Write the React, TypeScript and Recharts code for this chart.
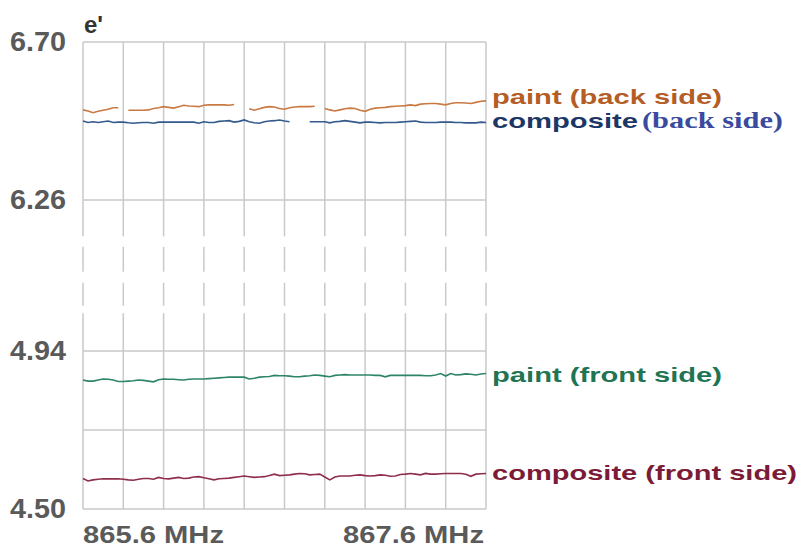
import React from "react";
import { LineChart, Line, XAxis, YAxis, CartesianGrid } from "recharts";

// frequency samples, MHz
const FREQS = [
  865.6, 865.625, 865.65, 865.675, 865.7, 865.725, 865.75, 865.775, 865.8, 865.825,
  865.85, 865.875, 865.9, 865.925, 865.95, 865.975, 866.0, 866.025, 866.05, 866.075,
  866.1, 866.125, 866.15, 866.175, 866.2, 866.225, 866.25, 866.275, 866.3, 866.325,
  866.35, 866.375, 866.4, 866.425, 866.45, 866.475, 866.5, 866.525, 866.55, 866.575,
  866.6, 866.625, 866.65, 866.675, 866.7, 866.725, 866.75, 866.775, 866.8, 866.825,
  866.85, 866.875, 866.9, 866.925, 866.95, 866.975, 867.0, 867.025, 867.05, 867.075,
  867.1, 867.125, 867.15, 867.175, 867.2, 867.225, 867.25, 867.275, 867.3, 867.325,
  867.35, 867.375, 867.4, 867.425, 867.45, 867.475, 867.5, 867.525, 867.55, 867.575,
  867.6,
];

// e' readings, null where the trace drops out
const PAINT_BACK: (number | null)[] = [
  6.511, 6.508, 6.503, 6.507, 6.51, 6.513, 6.517, 6.517, null, 6.51,
  6.51, 6.51, 6.51, 6.511, 6.515, 6.517, 6.52, 6.518, 6.516, 6.52,
  6.524, 6.522, 6.521, 6.52, 6.524, 6.525, 6.525, 6.525, 6.525, 6.524,
  6.526, null, null, 6.514, 6.51, 6.514, 6.518, 6.52, 6.519, 6.515,
  6.513, 6.517, 6.519, 6.52, 6.52, 6.52, 6.521, null, 6.515, 6.511,
  6.508, 6.511, 6.514, 6.516, 6.515, 6.51, 6.507, 6.513, 6.516, 6.517,
  6.518, 6.52, 6.521, 6.522, 6.523, 6.525, 6.523, 6.527, 6.528, 6.529,
  6.529, 6.527, 6.525, 6.529, 6.531, 6.531, 6.53, 6.529, 6.532, 6.535,
  6.536,
];

const COMPOSITE_BACK: (number | null)[] = [
  6.48, 6.476, 6.478, 6.476, 6.478, 6.48, 6.476, 6.477, 6.477, 6.475,
  6.474, 6.475, 6.476, 6.476, 6.474, 6.477, 6.477, 6.477, 6.477, 6.477,
  6.477, 6.477, 6.477, 6.474, 6.478, 6.476, 6.476, 6.479, 6.48, 6.481,
  6.477, 6.479, 6.483, 6.478, 6.475, 6.474, 6.478, 6.48, 6.481, 6.483,
  6.48, 6.478, null, null, null, 6.478, 6.478, 6.478, 6.478, 6.475,
  6.478, 6.479, 6.481, 6.479, 6.477, 6.475, 6.477, 6.477, 6.476, 6.475,
  6.476, 6.476, 6.476, 6.477, 6.478, 6.479, 6.48, 6.477, 6.476, 6.476,
  6.476, 6.477, 6.477, 6.477, 6.476, 6.476, 6.475, 6.475, 6.475, 6.477,
  6.476,
];

const PAINT_FRONT = [
  4.859, 4.856, 4.856, 4.859, 4.862, 4.861, 4.859, 4.855, 4.855, 4.856,
  4.857, 4.859, 4.858, 4.856, 4.854, 4.86, 4.862, 4.861, 4.861, 4.86,
  4.859, 4.861, 4.862, 4.862, 4.862, 4.863, 4.864, 4.865, 4.866, 4.867,
  4.867, 4.867, 4.867, 4.862, 4.864, 4.867, 4.868, 4.869, 4.872, 4.871,
  4.871, 4.87, 4.868, 4.868, 4.87, 4.871, 4.873, 4.872, 4.87, 4.868,
  4.872, 4.873, 4.874, 4.873, 4.873, 4.873, 4.873, 4.873, 4.872, 4.872,
  4.868, 4.872, 4.872, 4.872, 4.872, 4.872, 4.872, 4.872, 4.871, 4.871,
  4.873, 4.877, 4.87, 4.877, 4.873, 4.874, 4.876, 4.875, 4.873, 4.876,
  4.877,
];

const COMPOSITE_FRONT = [
  4.585, 4.578, 4.581, 4.583, 4.584, 4.584, 4.584, 4.584, 4.583, 4.581,
  4.58, 4.583, 4.585, 4.585, 4.583, 4.588, 4.585, 4.584, 4.586, 4.588,
  4.585, 4.586, 4.589, 4.59, 4.587, 4.584, 4.581, 4.584, 4.585, 4.586,
  4.588, 4.59, 4.592, 4.59, 4.588, 4.589, 4.59, 4.593, 4.597, 4.593,
  4.594, 4.595, 4.597, 4.599, 4.598, 4.595, 4.596, 4.597, 4.589, 4.581,
  4.589, 4.592, 4.592, 4.592, 4.594, 4.595, 4.593, 4.592, 4.593, 4.595,
  4.594, 4.591, 4.592, 4.596, 4.597, 4.599, 4.597, 4.595, 4.599, 4.597,
  4.597, 4.598, 4.599, 4.599, 4.599, 4.599, 4.597, 4.591, 4.597, 4.598,
  4.599,
];

const FREQ_TICKS = [865.6, 865.8, 866.0, 866.2, 866.4, 866.6, 866.8, 867.0, 867.2, 867.4, 867.6];
const FREQ_TICK_LABELS = ["865.6 MHz", "", "", "", "", "", "", "", "", "", "867.6 MHz"];

const Y_TICKS = [4.5, 4.72, 4.94, 6.26, 6.7];
const Y_TICK_LABELS = ["4.50", "", "4.94", "6.26", "6.70"];

// broken axis: the upper band 6.26..6.70 sits on top of 4.50..4.94
// with a gap of BREAK_GAP axis units in between
const LOWER_TOP = 4.94;
const UPPER_BOTTOM = 6.26;
const BREAK_GAP = 0.42;
const SHIFT = UPPER_BOTTOM - LOWER_TOP - BREAK_GAP;
const Y_MIN = 4.5;
const Y_MAX = 6.7 - SHIFT;

const toAxis = (v: number | null) => (v == null ? null : v >= UPPER_BOTTOM - 1e-9 ? v - SHIFT : v);

const data = FREQS.map((f, i) => ({
  f,
  paintBack: toAxis(PAINT_BACK[i]),
  compositeBack: toAxis(COMPOSITE_BACK[i]),
  paintFront: PAINT_FRONT[i],
  compositeFront: COMPOSITE_FRONT[i],
}));

const FONT = '"Liberation Sans", Arial, sans-serif';
const GRID = "#c9c9c9";
const TICK_COLOR = "#5a5a5a";

// vertical grid lines get a dashed stretch inside the axis break
const VerticalLine = (props: any) => {
  const { x1, y1, y2, key } = props;
  const perUnit = (y2 - y1) / (Y_MAX - Y_MIN);
  const yUpper = y2 - (UPPER_BOTTOM - SHIFT - Y_MIN) * perUnit;
  const yLower = y2 - (LOWER_TOP - Y_MIN) * perUnit;
  const gap = yLower - yUpper;
  return (
    <g key={key}>
      <line x1={x1} x2={x1} y1={y1} y2={yUpper + gap * 0.24} stroke={GRID} strokeWidth={1.5} />
      <line
        x1={x1}
        x2={x1}
        y1={yUpper + gap * 0.31}
        y2={yUpper + gap * 0.7}
        stroke={GRID}
        strokeWidth={1.5}
        strokeDasharray="25 11"
      />
      <line x1={x1} x2={x1} y1={yUpper + gap * 0.75} y2={y2} stroke={GRID} strokeWidth={1.5} />
    </g>
  );
};

const FreqTick = (props: any) => {
  const { x, y, index } = props;
  const label = FREQ_TICK_LABELS[index];
  if (!label) return <g />;
  const first = index === 0;
  return (
    <text
      x={first ? x : x - 2}
      y={y + 32}
      textAnchor={first ? "start" : "end"}
      fontFamily={FONT}
      fontWeight="bold"
      fontSize={24}
      fill={TICK_COLOR}
      textLength={141}
      lengthAdjust="spacingAndGlyphs"
    >
      {label}
    </text>
  );
};

const ValueTick = (props: any) => {
  const { x, y, index } = props;
  const label = Y_TICK_LABELS[index];
  if (!label) return <g />;
  return (
    <text
      x={x}
      y={y + 9}
      textAnchor="end"
      fontFamily={FONT}
      fontWeight="bold"
      fontSize={27}
      fill={TICK_COLOR}
      textLength={56}
      lengthAdjust="spacingAndGlyphs"
    >
      {label}
    </text>
  );
};

const labelStyle = { fontFamily: FONT, fontWeight: "bold" as const, fontSize: 21 };

export default function App() {
  return (
    <div style={{ position: "relative", width: 806, height: 548, background: "#fff" }}>
      <style>{"body{margin:0}"}</style>
      <LineChart width={806} height={548} data={data} margin={{ top: 42, right: 320, bottom: 0, left: 0 }}>
        <CartesianGrid stroke={GRID} strokeWidth={1.5} vertical={VerticalLine} />
        <XAxis
          dataKey="f"
          type="number"
          domain={[865.6, 867.6]}
          ticks={FREQ_TICKS}
          interval={0}
          height={39}
          axisLine={false}
          tickLine={false}
          tickSize={0}
          tick={FreqTick}
        />
        <YAxis
          type="number"
          domain={[Y_MIN, Y_MAX]}
          ticks={Y_TICKS.map((t) => toAxis(t) as number)}
          interval={0}
          width={83}
          axisLine={false}
          tickLine={false}
          tickSize={0}
          tickMargin={17}
          tick={ValueTick}
        />
        <Line dataKey="paintBack" stroke="#c97a43" strokeWidth={1.6} dot={false} activeDot={false} isAnimationActive={false} />
        <Line dataKey="compositeBack" stroke="#34598c" strokeWidth={1.6} dot={false} activeDot={false} isAnimationActive={false} />
        <Line dataKey="paintFront" stroke="#2e8565" strokeWidth={1.6} dot={false} activeDot={false} isAnimationActive={false} />
        <Line dataKey="compositeFront" stroke="#8e2e4a" strokeWidth={1.6} dot={false} activeDot={false} isAnimationActive={false} />
      </LineChart>
      <svg width={806} height={548} style={{ position: "absolute", left: 0, top: 0, pointerEvents: "none" }}>
        <text x={84} y={33} fontFamily={FONT} fontWeight="bold" fontSize={24} fill="#333">
          e'
        </text>
        <text x={492} y={104} {...labelStyle} fill="#b45d25" textLength={230} lengthAdjust="spacingAndGlyphs">
          paint (back side)
        </text>
        <text x={492} y={128} {...labelStyle} fill="#1c3766" textLength={146} lengthAdjust="spacingAndGlyphs">
          composite
        </text>
        <text
          x={642}
          y={128}
          fontFamily='"Liberation Serif", "Times New Roman", serif'
          fontWeight="bold"
          fontSize={24}
          fill="#3a4a9e"
          textLength={141}
          lengthAdjust="spacingAndGlyphs"
        >
          (back side)
        </text>
        <text x={492} y={382} {...labelStyle} fill="#1f7553" textLength={230} lengthAdjust="spacingAndGlyphs">
          paint (front side)
        </text>
        <text x={492} y={480} {...labelStyle} fill="#7b1b36" textLength={305} lengthAdjust="spacingAndGlyphs">
          composite (front side)
        </text>
      </svg>
    </div>
  );
}
